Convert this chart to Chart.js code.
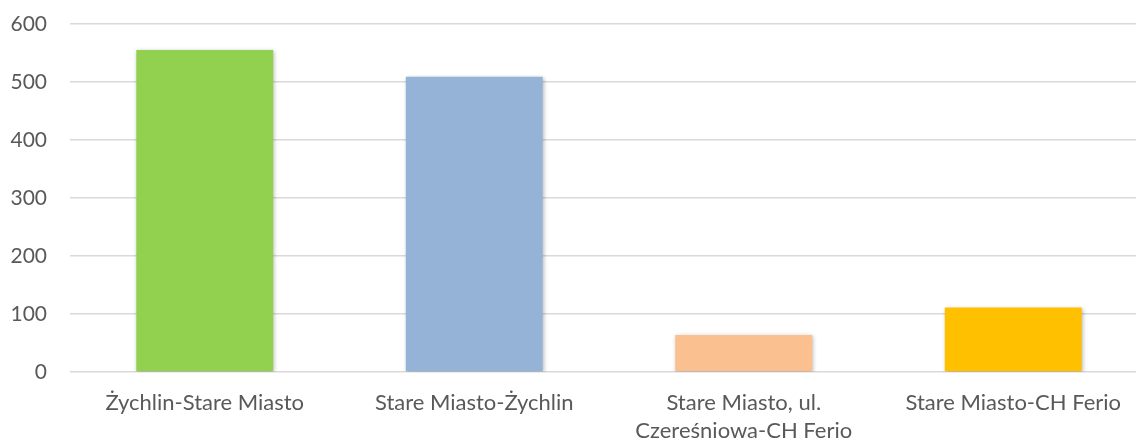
<!DOCTYPE html>
<html>
<head>
<meta charset="utf-8">
<script src="https://cdn.jsdelivr.net/npm/chart.js@4/dist/chart.umd.min.js"></script>
<style>
  html, body { margin: 0; padding: 0; background: #fff; overflow: hidden; }
  #wrap { position: relative; width: 1150px; height: 441px; }
</style>
</head>
<body>
<div id="wrap"><canvas id="chart"></canvas></div>
<script>
const categories = [
  "Żychlin-Stare Miasto",
  "Stare Miasto-Żychlin",
  ["Stare Miasto, ul.", "Czereśniowa-CH Ferio"],
  "Stare Miasto-CH Ferio"
];
const values = [555, 509, 64, 111];
const barColors = ["#92D050", "#95B3D7", "#FAC090", "#FFC000"];
const yTicks = { min: 0, max: 600, step: 100 };

// soft drop shadow under the bars, like the office-style original
const barShadow = {
  id: "barShadow",
  beforeDatasetsDraw(chart) {
    const ctx = chart.ctx;
    ctx.save();
    ctx.shadowColor = "rgba(0,0,0,0.28)";
    ctx.shadowBlur = 4;
    ctx.shadowOffsetX = 1;
    ctx.shadowOffsetY = 1;
  },
  afterDatasetsDraw(chart) {
    chart.ctx.restore();
  }
};

const fontFamily = "Lato, 'Liberation Sans', sans-serif";

new Chart(document.getElementById("chart"), {
  type: "bar",
  data: {
    labels: categories,
    datasets: [{
      data: values,
      backgroundColor: barColors,
      borderWidth: 0,
      barPercentage: 0.508,
      categoryPercentage: 1
    }]
  },
  options: {
    responsive: true,
    maintainAspectRatio: false,
    animation: false,
    layout: { padding: { top: 24, right: 2, left: 0, bottom: 0 } },
    plugins: {
      legend: { display: false },
      tooltip: { enabled: false }
    },
    scales: {
      x: {
        grid: { display: false, drawTicks: false },
        border: { display: false },
        ticks: {
          color: "#595959",
          padding: 17,
          maxRotation: 0,
          autoSkip: false,
          font: { family: fontFamily, size: 22, lineHeight: 1.27 }
        },
        afterFit(scale) { scale.height = 69; scale.paddingTop = 0; scale.paddingBottom = 0; }
      },
      y: {
        min: yTicks.min,
        max: yTicks.max,
        grid: { color: "#d9d9d9", lineWidth: 1.5, drawTicks: false },
        border: { display: false },
        ticks: {
          stepSize: yTicks.step,
          color: "#595959",
          padding: 23,
          font: { family: fontFamily, size: 21 }
        },
        afterFit(scale) { scale.width = 70; scale.paddingTop = 0; scale.paddingBottom = 0; }
      }
    }
  },
  plugins: [barShadow]
});
</script>
</body>
</html>
